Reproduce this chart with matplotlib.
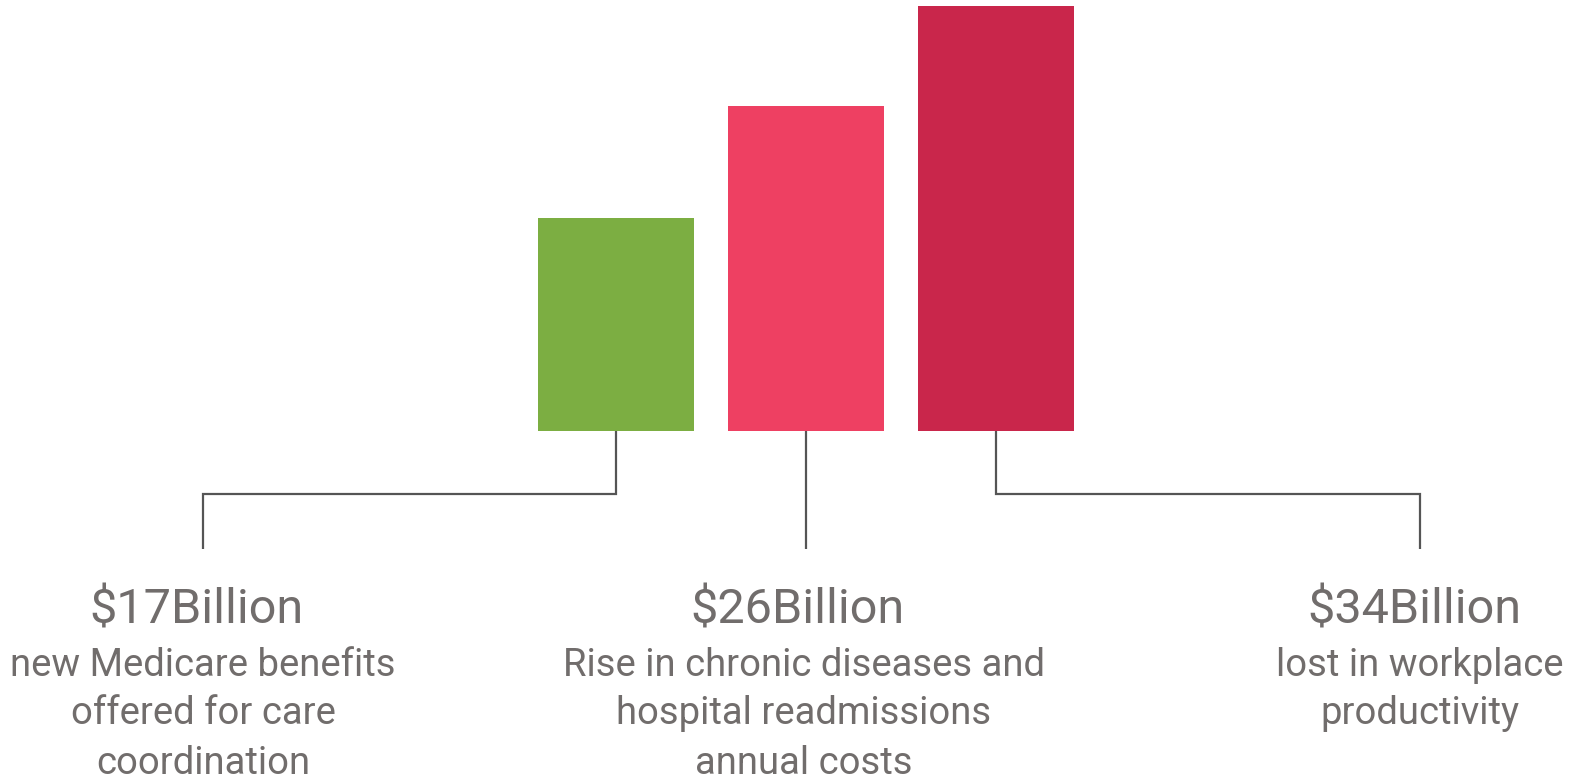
import matplotlib
matplotlib.use("Agg")
import matplotlib.pyplot as plt

# ---------- data ----------
values = [17, 26, 34]
headlines = ["$17Billion", "$26Billion", "$34Billion"]
descriptions = [
    ["new Medicare benefits", "offered for care", "coordination"],
    ["Rise in chronic diseases and", "hospital readmissions", "annual costs"],
    ["lost in workplace", "productivity"],
]
colors = ["#7cae42", "#ee4062", "#c9264b"]
# --------------------------

W, H = 1576, 782
TEXT_GRAY = "#716d6c"
LINE_GRAY = "#555555"
BASE_Y = 431          # pixel row of the bar baseline
ELBOW_Y = 494         # horizontal run of the connectors
DROP_Y = 549          # where connectors end above the labels
LABEL_X = [203, 804, 1420]
LINE_STEP = 49

plt.rcParams["font.family"] = ["Roboto", "DejaVu Sans"]

fig = plt.figure(figsize=(W / 100, H / 100), dpi=100)

# bar axes: baseline at BASE_Y, top of figure at the top
ax = fig.add_axes([0, (H - BASE_Y) / H, 1, BASE_Y / H])
step, x0 = 190.0, 616.0
ax.set_xlim(-x0 / step, (W - x0) / step)
ax.set_ylim(0, max(values) * BASE_Y / 425)
xs = list(range(len(values)))
ax.bar(xs, values, width=156 / step, color=colors)
ax.axis("off")

# overlay in pixel coordinates for connectors and labels
ov = fig.add_axes([0, 0, 1, 1], zorder=-1)
ov.set_xlim(0, W)
ov.set_ylim(H, 0)
ov.axis("off")

fig.canvas.draw()
for x, lx, head, desc in zip(xs, LABEL_X, headlines, descriptions):
    px = ax.transData.transform((x, 0))[0]
    if abs(px - lx) < 3:
        ov.plot([px, px], [BASE_Y, DROP_Y], color=LINE_GRAY, lw=1.6,
                solid_capstyle="butt")
    else:
        ov.plot([px, px, lx, lx], [BASE_Y, ELBOW_Y, ELBOW_Y, DROP_Y],
                color=LINE_GRAY, lw=1.6, solid_capstyle="butt",
                solid_joinstyle="miter")
    ov.text(lx - 6, 611, head, ha="center", va="center", fontsize=35,
            color=TEXT_GRAY)
    for i, line in enumerate(desc):
        ov.text(lx, 665 + LINE_STEP * i, line, ha="center", va="center",
                fontsize=27.5, color=TEXT_GRAY)

fig.savefig("out.png", dpi=100, facecolor="white")
